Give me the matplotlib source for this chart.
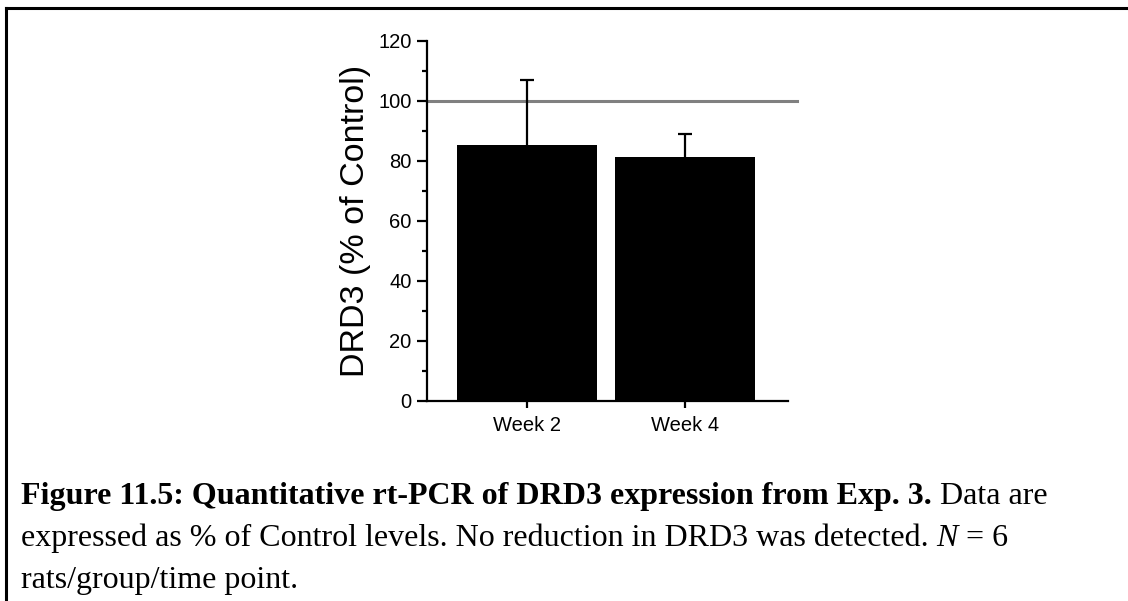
import numpy as np
import matplotlib
matplotlib.use("Agg")
import matplotlib.pyplot as plt
from matplotlib.lines import Line2D
from matplotlib.ticker import MultipleLocator

groups = ['Week 2', 'Week 4']
means = [85.5, 81.5]
sem = [21.5, 7.4]
control_level = 100

caption = [
    [("Figure 11.5: Quantitative rt-PCR of DRD3 expression from Exp. 3.", 'bold', 'normal'),
     (" Data are", 'normal', 'normal')],
    [("expressed as % of Control levels. No reduction in DRD3 was detected. ", 'normal', 'normal'),
     ("N", 'normal', 'italic'),
     (" = 6", 'normal', 'normal')],
    [("rats/group/time point.", 'normal', 'normal')],
]

plt.rcParams['font.family'] = ['Liberation Sans', 'DejaVu Sans']

W, H = 1128, 601
fig = plt.figure(figsize=(W / 100, H / 100), dpi=100)
ax = fig.add_axes([427 / W, 1 - 401 / H, (788 - 427) / W, 360 / H])

x = np.arange(len(groups))
ax.bar(x, means, width=0.886, color='black', zorder=2)
# upper error bar only
_, caps, _ = ax.errorbar(x, means, yerr=[np.zeros(len(sem)), sem], fmt='none', ecolor='black',
                         elinewidth=1.6, capsize=5, capthick=1.6, zorder=1.5)
caps[0].set_visible(False)
ax.axhline(control_level, xmin=0, xmax=1.025, color='#808080', lw=2.2, zorder=1, clip_on=False)

ax.set_xlim(-0.633, 1.652)
ax.set_ylim(0, 120)
ax.set_xticks(x)
ax.set_xticklabels(groups)
ax.yaxis.set_major_locator(MultipleLocator(20))
ax.yaxis.set_minor_locator(MultipleLocator(10))

for s in ['top', 'right']:
    ax.spines[s].set_visible(False)
for s in ['left', 'bottom']:
    ax.spines[s].set_linewidth(1.6)
ax.tick_params(axis='y', which='major', length=7, width=1.6, labelsize=14.5, pad=4)
ax.tick_params(axis='y', which='minor', length=3.5, width=1.6)
ax.tick_params(axis='x', which='major', length=5, width=1.6, labelsize=14.5, pad=6)
ax.set_ylabel('DRD3 (% of Control)', fontsize=24.5, labelpad=5)

# caption below the chart
renderer = fig.canvas.get_renderer()
baselines = [504, 546, 588]
for line, yb in zip(caption, baselines):
    xpos = 21
    for txt, weight, style in line:
        t = fig.text(xpos / W, 1 - yb / H, txt, family='Liberation Serif', fontsize=23,
                     fontweight=weight, fontstyle=style, va='baseline', ha='left')
        bb = t.get_window_extent(renderer)
        xpos += bb.width

# page frame
fig.add_artist(Line2D([6 / W, 6 / W], [0, 1 - 8 / H], color='black', lw=2.2))
fig.add_artist(Line2D([6 / W, 1], [1 - 8 / H, 1 - 8 / H], color='black', lw=2.2))

fig.savefig('out.png', dpi=100)
